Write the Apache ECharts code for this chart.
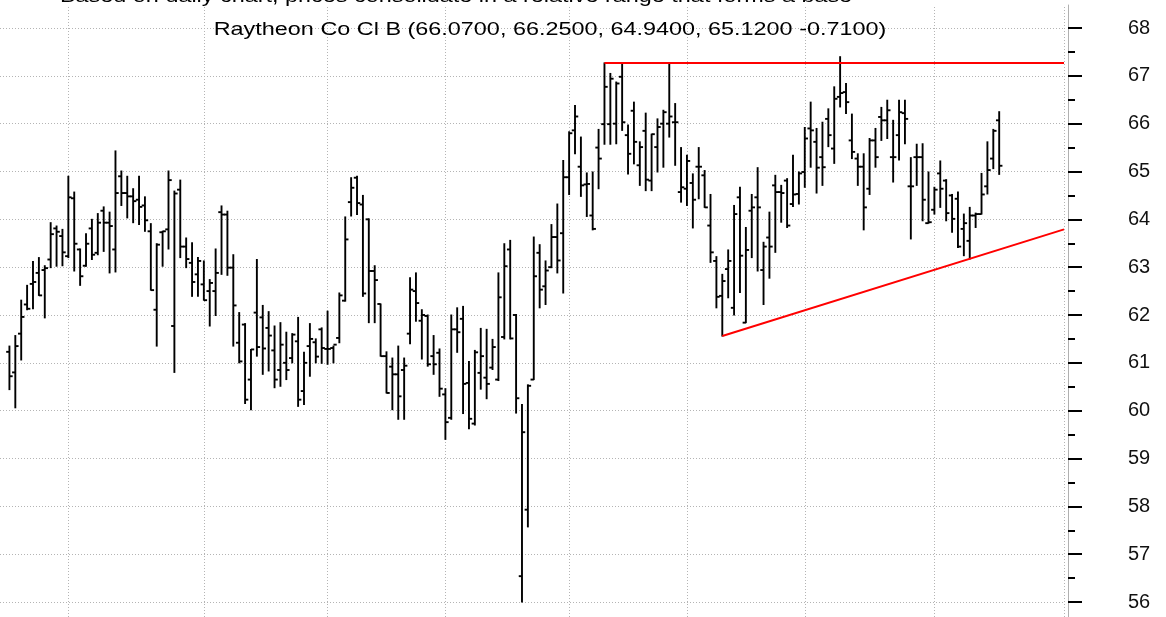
<!DOCTYPE html>
<html>
<head>
<meta charset="utf-8">
<script src="https://cdn.jsdelivr.net/npm/echarts@6/dist/echarts.min.js"></script>
<style>
html, body { margin: 0; padding: 0; background: #fff; }
#chart { width: 1166px; height: 617px; }
</style>
</head>
<body>
<div id="chart"></div>
<script>
// OHLC values, one entry per trading day
var opens = [61.23,60.8,61.61,62.22,62.65,62.88,62.94,63.16,63.81,63.65,63.23,64.44,63.37,63.03,63.81,63.3,64.18,63.93,63.37,64.9,
	64.55,64.48,64.41,64.29,63.75,62.11,63.73,63.79,61.77,64.62,63.43,63.09,62.85,62.64,62.5,62.5,64.15,64.1,62.99,61.42,
	61.8,60.65,62.05,61.95,61.73,61.26,60.85,61.0,61.1,61.45,60.41,61.35,61.43,61.7,61.29,61.31,61.52,62.3,64.36,64.87,
	64.31,64.0,62.92,62.23,61.14,60.92,60.76,60.85,61.61,62.5,61.88,61.98,61.14,61.21,60.34,59.85,61.7,61.92,60.58,59.73,
	60.79,60.69,60.9,60.65,61.54,63.37,62.0,56.54,57.93,60.65,63.3,62.6,63.0,63.63,63.71,64.88,65.86,65.1,64.73,64.08,
	65.5,65.99,65.99,66.0,66.98,65.76,66.27,65.13,65.85,64.81,65.51,66.0,66.0,66.03,64.57,64.64,64.76,65.1,64.92,63.87,
	63.13,62.4,62.96,62.15,64.46,61.84,64.18,64.46,62.94,63.62,64.71,64.57,64.81,64.32,64.53,64.99,65.9,65.62,65.3,66.1,
	65.48,66.56,66.66,65.65,65.27,65.1,64.64,65.65,66.14,66.07,65.3,65.76,66.22,64.69,65.3,65.3,63.92,64.2,64.96,64.81,
	64.5,64.43,63.8,63.55,64.08,64.11,64.69,65.27,66.07];
var highs = [61.35,61.57,62.31,62.62,63.12,63.2,63.03,63.93,63.86,63.79,64.9,64.57,63.38,63.7,64.0,64.12,64.26,64.15,65.43,65.01,
	64.9,64.64,64.9,64.47,63.91,63.49,63.75,65.01,64.59,64.82,63.61,63.51,63.2,63.13,62.74,63.38,64.28,64.17,63.26,62.05,
	61.82,61.28,63.16,62.2,62.07,61.77,61.84,61.64,61.61,61.95,61.22,61.82,61.5,61.73,62.08,61.35,62.46,64.05,64.87,64.9,
	64.5,64.01,63.03,62.23,61.23,61.1,61.35,61.1,62.78,62.88,62.11,62.0,61.57,61.29,60.46,62.0,62.15,62.18,61.03,61.26,
	61.72,61.7,61.49,62.88,63.49,63.56,62.01,60.13,60.54,63.63,63.47,63.13,63.89,64.32,65.23,65.83,66.38,65.72,64.97,64.99,
	65.88,67.27,67.05,66.87,67.24,65.97,66.45,65.62,66.22,65.78,66.1,66.28,67.24,66.42,65.5,65.34,64.95,65.5,65.02,64.52,
	63.22,62.85,63.36,64.29,64.67,63.83,64.52,65.08,63.52,64.15,64.92,64.71,64.85,65.34,64.99,65.92,66.45,65.9,66.03,66.31,
	66.77,67.4,66.84,66.2,65.37,65.37,65.69,65.9,66.34,66.49,66.07,66.49,66.49,65.29,65.57,65.58,64.99,64.67,65.22,64.83,
	64.52,64.57,64.11,64.25,64.13,64.96,65.62,65.88,66.25];
var lows = [60.44,60.06,61.06,62.11,62.13,62.41,61.94,62.99,63.02,63.03,63.2,62.92,62.62,63.02,63.16,63.26,63.33,62.88,62.9,64.29,
	64.03,63.93,63.89,63.75,62.52,61.35,63.02,63.38,60.8,63.2,62.99,62.39,62.39,62.31,61.77,61.99,62.85,62.83,61.35,61.0,
	60.15,60.02,61.14,60.76,60.83,60.48,60.51,60.65,61.0,60.09,60.13,60.72,61.0,60.99,60.97,61.0,61.42,62.29,64.07,64.1,
	62.39,61.84,61.84,61.14,60.37,60.02,59.82,59.82,61.4,61.87,61.08,60.93,60.76,60.3,59.4,59.82,61.22,59.94,59.62,59.7,
	60.45,60.25,60.86,60.63,61.5,61.5,59.95,56.0,57.57,60.65,62.15,62.22,62.99,62.88,62.46,64.52,65.37,64.48,64.06,63.78,
	64.64,65.57,65.57,65.58,65.86,64.95,65.16,64.71,64.6,64.6,64.99,65.09,65.72,65.13,64.36,64.29,63.82,64.43,64.25,63.1,
	62.15,61.56,62.36,62.0,62.47,61.84,63.2,62.92,62.22,62.77,63.31,63.94,63.83,64.27,64.32,64.67,65.09,64.55,64.71,65.52,
	65.17,66.35,66.21,65.27,64.71,63.78,64.52,65.09,65.65,65.69,64.78,65.24,65.58,63.59,64.71,63.97,63.92,64.11,64.25,63.97,
	63.73,63.41,63.24,63.17,63.83,64.11,64.53,65.06,64.94];
var closes = [60.72,61.35,61.96,62.13,62.69,62.41,62.98,63.69,63.74,63.31,64.46,63.49,62.81,63.49,63.26,63.93,63.93,63.86,64.55,64.55,
	64.48,64.38,64.26,63.98,62.52,63.47,63.75,64.82,64.54,63.43,63.17,62.69,63.13,62.31,62.67,62.88,64.1,62.99,62.2,61.03,
	60.23,61.28,61.33,61.3,61.57,60.65,61.38,60.85,61.59,60.23,61.0,61.5,61.13,61.31,61.29,61.38,62.41,63.58,64.66,64.34,
	62.45,62.92,62.73,61.14,60.37,60.76,60.3,60.94,62.53,62.25,62.0,60.97,60.97,60.46,59.76,61.7,61.64,60.56,59.83,61.22,
	61.14,60.56,61.33,62.37,63.02,61.51,60.26,59.55,60.52,62.81,62.53,62.93,63.63,63.14,64.88,65.8,66.15,64.71,64.74,63.8,
	65.27,66.77,66.94,66.84,66.03,65.37,65.62,65.51,64.83,65.78,65.93,66.24,66.15,66.03,64.67,65.22,64.41,65.1,64.25,63.31,
	62.38,62.71,63.13,64.11,63.24,63.36,64.25,64.25,63.43,63.43,64.57,64.55,63.87,64.52,64.96,65.69,65.86,65.08,65.09,65.76,
	66.52,66.64,66.45,65.41,65.1,64.25,65.65,65.3,66.07,66.28,65.3,66.24,66.1,64.69,65.3,64.41,63.94,64.62,64.64,64.13,
	64.01,63.43,63.92,64.08,64.11,64.52,65.03,65.85,65.12];

// bar index where each month starts (vertical grid lines)
var monthStarts = [10, 33, 54, 74, 95, 115, 135, 157, 179];

// trend lines: [bar index, price]
var resistanceLine = [[101, 67.27], [179, 67.27]];
var supportLine = [[121, 61.56], [179, 63.79]];

var titleText = 'Raytheon Co Cl B (66.0700, 66.2500, 64.9400, 65.1200 -0.7100)';
var noteText = 'Based on daily chart, prices consolidate in a relative range that forms a base';

(function() {
	var chart = echarts.init(document.getElementById('chart'), null, { renderer: 'canvas' });

	var bars = [];
	for(var i = 0; i < opens.length; i++) {
		bars.push([i, opens[i], highs[i], lows[i], closes[i]]);
	}

	// classic OHLC bar: high-low stick, open tick left, close tick right
	function renderBar(params, api) {
		var x = api.value(0);
		var o = api.coord([x, api.value(1)]);
		var h = api.coord([x, api.value(2)]);
		var l = api.coord([x, api.value(3)]);
		var c = api.coord([x, api.value(4)]);
		var w = api.size([0.55, 0])[0];
		var st = { stroke: '#000', lineWidth: 1.9 };
		return {
			type: 'group',
			children: [
				{ type: 'line', shape: { x1: h[0], y1: h[1] - 0.5, x2: l[0], y2: l[1] + 0.5 }, style: st },
				{ type: 'line', shape: { x1: o[0] - w, y1: o[1], x2: o[0], y2: o[1] }, style: st },
				{ type: 'line', shape: { x1: c[0], y1: c[1], x2: c[0] + w, y2: c[1] }, style: st }
			]
		};
	}

	var gridMarks = [];
	for(var k = 0; k < monthStarts.length; k++) {
		gridMarks.push({ xAxis: monthStarts[k] });
	}

	var option = {
		animation: false,
		backgroundColor: '#fff',
		grid: [
			{ left: 0, right: 102, top: 28, bottom: 15 },
			{ left: 0, right: 102, top: 5, bottom: 0 }
		],
		xAxis: [
			{ type: 'value', gridIndex: 0, min: -1.6, max: 179, show: false },
			{ type: 'value', gridIndex: 1, min: -1.6, max: 179, show: false }
		],
		yAxis: [{
			type: 'value',
			gridIndex: 0,
			position: 'right',
			offset: 4,
			min: 56,
			max: 68,
			interval: 1,
			axisLine: { show: false, onZero: false },
			axisTick: { show: true, length: 14, lineStyle: { color: '#000', width: 2 } },
			minorTick: { show: true, splitNumber: 2, length: 7, lineStyle: { color: '#000', width: 2 } },
			axisLabel: { margin: 60, color: '#111', fontSize: 20, fontFamily: 'Liberation Sans', padding: [8, 0, 0, 0] },
			splitLine: { show: true, lineStyle: { color: '#b4b4b4', width: 1, type: [1, 2] } }
		}, {
			type: 'value',
			gridIndex: 1,
			position: 'right',
			offset: 4,
			min: 0,
			max: 1,
			axisLine: { show: true, onZero: false, lineStyle: { color: '#b0b0b0', width: 1 } },
			axisTick: { show: false },
			axisLabel: { show: false },
			splitLine: { show: false }
		}],
		graphic: [{
			type: 'text',
			x: 550,
			y: 30,
			scaleX: 1.3,
			z: 10,
			style: { text: titleText, fill: '#000', fontSize: 18, fontFamily: 'Liberation Sans', align: 'center', verticalAlign: 'middle' }
		}, {
			type: 'text',
			x: 60,
			y: -3,
			scaleX: 1.3,
			z: 10,
			style: { text: noteText, fill: '#000', fontSize: 18, fontFamily: 'Liberation Sans', align: 'left', verticalAlign: 'middle' }
		}],
		series: [{
			// vertical month grid lines
			type: 'line',
			xAxisIndex: 1,
			yAxisIndex: 1,
			data: [[0, 0]],
			symbol: 'none',
			lineStyle: { opacity: 0 },
			silent: true,
			markLine: {
				silent: true,
				symbol: ['none', 'none'],
				label: { show: false },
				lineStyle: { color: '#b4b4b4', width: 1, type: [1, 2] },
				data: gridMarks
			}
		}, {
			type: 'custom',
			xAxisIndex: 0,
			yAxisIndex: 0,
			renderItem: renderBar,
			data: bars,
			encode: { x: 0, y: [1, 2, 3, 4] },
			z: 5
		}, {
			type: 'line',
			xAxisIndex: 0,
			yAxisIndex: 0,
			data: resistanceLine,
			symbol: 'none',
			lineStyle: { color: '#ff0000', width: 2 },
			z: 6
		}, {
			type: 'line',
			xAxisIndex: 0,
			yAxisIndex: 0,
			data: supportLine,
			symbol: 'none',
			lineStyle: { color: '#ff0000', width: 2 },
			z: 6
		}]
	};

	chart.setOption(option);
}());
</script>
</body>
</html>
